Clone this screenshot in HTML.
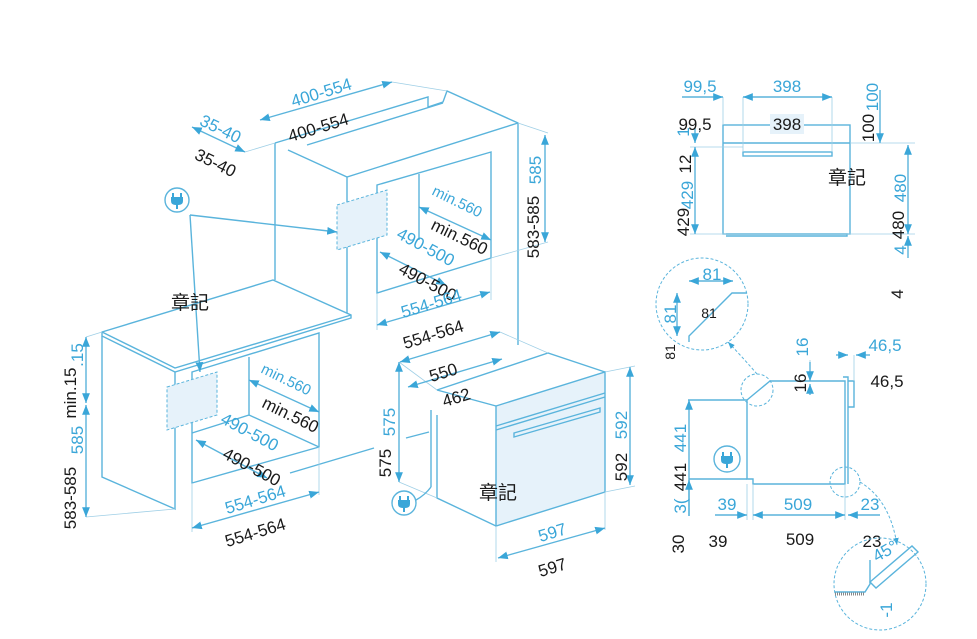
<!DOCTYPE html>
<html><head><meta charset="utf-8"><style>
html,body{margin:0;padding:0;background:#fff;width:977px;height:639px;overflow:hidden}
svg{display:block}
text{font-family:"Liberation Sans","Noto Sans CJK TC",sans-serif;font-size:17px}
.b{fill:#3aa6d8}.k{fill:#1a1a1a}
.l{stroke:#5ab4dc;stroke-width:1.4;fill:none}
.t{stroke:#9fcfe6;stroke-width:0.8;fill:none}
.d{stroke:#5ab4dc;stroke-width:1;fill:none;stroke-dasharray:3 2}
.f{fill:#e6f2fa}
</style></head><body>
<svg width="977" height="639" viewBox="0 0 977 639">
<defs><marker id="a" viewBox="0 0 10 10" refX="10" refY="5" markerWidth="7" markerHeight="7" orient="auto-start-reverse"><path d="M0,1 L10,5 L0,9z" fill="#3aa6d8"/></marker>
<g id="p"><path d="M-4,-7 L-4,-3 M4,-7 L4,-3" stroke="#3aa6d8" stroke-width="2"/><path d="M-6,-3 L6,-3 L6,1 Q6,5 1,5 L1,9 L-1,9 L-1,5 Q-6,5 -6,1Z" fill="#3aa6d8"/></g></defs>

<g class="l">
<path d="M275,143 L428,97 L428,107 L443,102 L447,91 L518,123 L518,345"/>
<path d="M288,150 L347,177 L518,123"/>
<path d="M443,103 L307,145"/>
<path d="M275,143 L275,280"/>
<path d="M347,177 L347,313"/>
<path d="M377,185 L491,152 L491,258 L377,293 Z"/>
<path d="M419,174 L419,240"/>
</g>
<path d="M337,205 L387,190 L387,235 L337,250Z" class="f"/>
<path d="M337,205 L387,190 L387,235 L337,250Z" class="d"/>

<g class="l">
<path d="M102,332 L273,280 L351,315 L351,318 L175,372 L102,336 Z"/>
<path d="M102,332 L175,368 L351,315"/>
<path d="M102,336 L102,477 L175,509 L175,372"/>
<path d="M192,372 L319,333 L319,447 L192,483 Z"/>
<path d="M249,357 L249,415 L192,433"/>
<path d="M249,415 L319,447"/>
</g>
<path d="M167,387 L217,372 L217,415 L167,430Z" class="f"/>
<path d="M167,387 L217,372 L217,415 L167,430Z" class="d"/>

<path d="M496,406 L605,372 L605,492 L496,526Z" fill="#e6f2fa"/>
<g class="l">
<path d="M496,406 L605,372 L605,492 L496,526Z"/>
<path d="M437,390 L548,353 L605,372"/>
<path d="M437,390 L496,406"/>
<path d="M437,415 L437,498 L496,526"/>
<path d="M431,410 L431,487"/>
<path d="M496,426 L605,393"/><path d="M496,430 L605,397"/>
<path d="M514,433 L600,408 L600,412 L514,437Z"/>
<path d="M290,473 L374,448"/><path d="M406,438 L429,432"/>
</g>

<g class="t">
<path d="M245,152 L275,143"/><path d="M392,82 L447,91"/>
<path d="M518,123 L548,133"/><path d="M491,258 L548,242"/>
<path d="M377,293 L377,330"/><path d="M491,258 L491,300"/>
<path d="M86,337 L102,332"/><path d="M86,517 L175,509"/>
<path d="M192,483 L192,532"/><path d="M319,447 L319,495"/>
<path d="M399,362 L437,390"/><path d="M399,482 L437,498"/>
<path d="M605,372 L635,366"/><path d="M605,492 L635,486"/>
<path d="M496,526 L496,562"/><path d="M605,492 L605,530"/>
<path d="M500,332 L548,353"/>
</g>

<g class="l" marker-start="url(#a)" marker-end="url(#a)" stroke-width="1">
<path d="M260,120 L392,82"/>
<path d="M192,127 L245,152"/>
<path d="M545,135 L545,242"/>
<path d="M419,207 L491,240"/>
<path d="M380,252 L446,285"/>
<path d="M377,325 L490,292"/>
<path d="M400,362 L500,332"/>
<path d="M408,387 L502,359"/>
<path d="M399,362 L399,482"/>
<path d="M630,367 L630,485"/>
<path d="M498,558 L605,528"/>
<path d="M192,528 L319,492"/>
<path d="M249,380 L319,412"/>
<path d="M196,440 L267,478"/>
<path d="M86,337 L86,403"/><path d="M86,405 L86,517"/>
</g>

<circle cx="177" cy="200" r="12" class="l"/>
<use href="#p" x="177" y="200"/>
<g class="l" stroke-width="1"><path d="M190,215 L337,232" marker-end="url(#a)"/><path d="M190,215 L200,372" marker-end="url(#a)"/></g>
<circle cx="404" cy="503" r="12" class="l"/>
<use href="#p" x="404" y="503"/>
<path d="M416,500 Q425,495 431,487" class="l"/>

<text class="b" transform="translate(323,98) rotate(-17)" text-anchor="middle">400-554</text>
<text class="k" transform="translate(320,133) rotate(-17)" text-anchor="middle">400-554</text>
<text class="b" transform="translate(218,134) rotate(26)" text-anchor="middle">35-40</text>
<text class="k" transform="translate(213,168) rotate(26)" text-anchor="middle">35-40</text>
<text class="b" transform="translate(455,206) rotate(26)" text-anchor="middle" style="font-size:15px">min.560</text>
<text class="k" transform="translate(457,242) rotate(26)" text-anchor="middle">min.560</text>
<text class="b" transform="translate(423,252) rotate(28)" text-anchor="middle">490-500</text>
<text class="k" transform="translate(425,287) rotate(28)" text-anchor="middle">490-500</text>
<text class="b" transform="translate(433,309) rotate(-17)" text-anchor="middle">554-564</text>
<text class="k" transform="translate(435,340) rotate(-17)" text-anchor="middle">554-564</text>
<text class="b" transform="translate(541,170) rotate(-90)" text-anchor="middle">585</text>
<text class="k" transform="translate(539,227) rotate(-90)" text-anchor="middle">583-585</text>
<text class="k" x="190" y="309" text-anchor="middle" style="font-size:19px">章記</text>

<text class="b" transform="translate(284,384) rotate(26)" text-anchor="middle" style="font-size:15px">min.560</text>
<text class="k" transform="translate(288,420) rotate(26)" text-anchor="middle">min.560</text>
<text class="b" transform="translate(247,437) rotate(28)" text-anchor="middle">490-500</text>
<text class="k" transform="translate(249,472) rotate(28)" text-anchor="middle">490-500</text>
<text class="b" transform="translate(257,505) rotate(-17)" text-anchor="middle">554-564</text>
<text class="k" transform="translate(257,538) rotate(-17)" text-anchor="middle">554-564</text>
<text class="b" transform="translate(83,355) rotate(-90)" text-anchor="middle">.15</text>
<text class="k" transform="translate(76,393) rotate(-90)" text-anchor="middle">min.15</text>
<text class="b" transform="translate(83,440) rotate(-90)" text-anchor="middle">585</text>
<text class="k" transform="translate(76,498) rotate(-90)" text-anchor="middle">583-585</text>

<text class="k" transform="translate(445,378) rotate(-17)" text-anchor="middle">550</text>
<text class="k" transform="translate(458,403) rotate(-17)" text-anchor="middle">462</text>
<text class="b" transform="translate(395,422) rotate(-90)" text-anchor="middle">575</text>
<text class="k" transform="translate(391,463) rotate(-90)" text-anchor="middle">575</text>
<text class="b" transform="translate(627,425) rotate(-90)" text-anchor="middle">592</text>
<text class="k" transform="translate(627,467) rotate(-90)" text-anchor="middle">592</text>
<text class="b" transform="translate(554,538) rotate(-17)" text-anchor="middle">597</text>
<text class="k" transform="translate(554,573) rotate(-17)" text-anchor="middle">597</text>
<text class="k" x="498" y="499" text-anchor="middle" style="font-size:19px">章記</text>

<rect x="723" y="125" width="127" height="109" fill="#e6f2fa" class="l"/>
<path d="M723,143 L850,143" class="l"/>
<rect x="743" y="152" width="89" height="4" class="l"/>
<path d="M726,234 L847,234 L847,236 L726,236" class="l"/>
<g class="t"><path d="M723,97 L723,125"/><path d="M743,97 L743,152"/><path d="M832,97 L832,152"/><path d="M690,147 L743,147"/><path d="M690,234 L915,234"/><path d="M850,143 L915,143"/></g>
<g class="l" stroke-width="1">
<path d="M682,97 L723,97" marker-end="url(#a)"/>
<path d="M743,97 L832,97" marker-start="url(#a)" marker-end="url(#a)"/>
<path d="M695,147 L695,234" marker-start="url(#a)" marker-end="url(#a)"/>
<path d="M695,128 L695,143" marker-end="url(#a)"/>
<path d="M880,90 L880,143" marker-end="url(#a)"/>
<path d="M908,145 L908,234" marker-start="url(#a)" marker-end="url(#a)"/>
<path d="M908,258 L908,236" marker-end="url(#a)"/>
</g>
<text class="b" x="700" y="92" text-anchor="middle">99,5</text>
<text class="b" x="787" y="92" text-anchor="middle">398</text>
<text class="k" x="695" y="130" text-anchor="middle">99,5</text>
<rect x="770" y="114" width="34" height="20" fill="#e6f2fa"/>
<text class="k" x="787" y="130" text-anchor="middle">398</text>
<text class="b" transform="translate(878,97) rotate(-90)" text-anchor="middle">100</text>
<text class="k" transform="translate(874,128) rotate(-90)" text-anchor="middle">100</text>
<text class="b" transform="translate(689,132) rotate(-90)" text-anchor="middle">1</text>
<text class="k" transform="translate(691,164) rotate(-90)" text-anchor="middle">12</text>
<text class="b" transform="translate(693,195) rotate(-90)" text-anchor="middle">429</text>
<text class="k" transform="translate(689,222) rotate(-90)" text-anchor="middle">429</text>
<text class="b" transform="translate(906,188) rotate(-90)" text-anchor="middle">480</text>
<text class="k" transform="translate(904,225) rotate(-90)" text-anchor="middle">480</text>
<text class="b" transform="translate(906,250) rotate(-90)" text-anchor="middle">4</text>
<text class="k" transform="translate(903,294) rotate(-90)" text-anchor="middle">4</text>
<text class="k" x="847" y="184" text-anchor="middle" style="font-size:19px">章記</text>

<circle cx="702" cy="304" r="46" class="d" stroke="#aaa"/>
<path d="M689,342 L689,336 L732,293 L747,293" class="l"/>
<g class="l" stroke-width="1"><path d="M689,281 L733,281" marker-start="url(#a)" marker-end="url(#a)"/><path d="M677,293 L677,336" marker-start="url(#a)" marker-end="url(#a)"/></g>
<text class="b" x="712" y="280" text-anchor="middle">81</text>
<text class="b" transform="translate(676,314) rotate(-90)" text-anchor="middle">81</text>
<text class="k" x="709" y="318" text-anchor="middle" style="font-size:14px">81</text>
<text class="k" transform="translate(675,352) rotate(-90)" text-anchor="middle" style="font-size:14px">81</text>
<path d="M757,374 Q745,360 728,342" class="d" stroke="#aaa" marker-end="url(#a)"/>

<g class="l">
<path d="M747,400 L753,395 L770,381 L845,381 L845,484 L753,484 L753,479 L747,479 Z"/>
<path d="M843,377 L848,377 L848,484"/>
<path d="M848,381 L854,381 L854,407 L848,407"/>
<path d="M688,400 L747,400"/><path d="M689,479 L747,479"/>
</g>
<circle cx="757" cy="390" r="16" class="d" stroke="#aaa"/>
<circle cx="845" cy="482" r="15" class="d" stroke="#aaa"/>
<path d="M860,482 Q890,500 897,545" class="d" stroke="#aaa" marker-end="url(#a)"/>
<g class="t"><path d="M747,484 L747,520"/><path d="M753,484 L753,520"/><path d="M845,484 L845,520"/><path d="M810,360 L810,381"/><path d="M854,355 L854,381"/></g>
<g class="l" stroke-width="1">
<path d="M689,516 L689,400" marker-end="url(#a)"/>
<path d="M689,480 L689,516" marker-start="url(#a)"/>
<path d="M715,515 L747,515" marker-end="url(#a)"/>
<path d="M753,515 L845,515" marker-start="url(#a)" marker-end="url(#a)"/>
<path d="M880,515 L848,515" marker-end="url(#a)"/>
<path d="M810,362 L810,381" marker-end="url(#a)"/>
<path d="M810,395 L810,384" marker-end="url(#a)"/>
<path d="M836,355 L848,355" marker-end="url(#a)"/>
<path d="M870,355 L856,355" marker-end="url(#a)"/>
</g>
<circle cx="727" cy="459" r="13" class="l"/>
<use href="#p" x="727" y="459"/>
<text class="b" transform="translate(808,347) rotate(-90)" text-anchor="middle">16</text>
<text class="k" transform="translate(806,383) rotate(-90)" text-anchor="middle">16</text>
<text class="b" x="885" y="351" text-anchor="middle">46,5</text>
<text class="k" x="887" y="387" text-anchor="middle">46,5</text>
<text class="b" transform="translate(686,438) rotate(-90)" text-anchor="middle">441</text>
<text class="k" transform="translate(686,477) rotate(-90)" text-anchor="middle">441</text>
<text class="b" transform="translate(686,506) rotate(-90)" text-anchor="middle">3(</text>
<text class="k" transform="translate(684,544) rotate(-90)" text-anchor="middle">30</text>
<text class="b" x="727" y="510" text-anchor="middle">39</text>
<text class="b" x="798" y="510" text-anchor="middle">509</text>
<text class="b" x="870" y="510" text-anchor="middle">23</text>
<text class="k" x="718" y="547" text-anchor="middle">39</text>
<text class="k" x="800" y="545" text-anchor="middle">509</text>
<text class="k" x="872" y="547" text-anchor="middle">23</text>

<circle cx="880" cy="584" r="46" class="d" stroke="#aaa"/>
<path d="M835,592 L865,592 L870,584 L870,560" class="l"/>
<path d="M835,594 L865,594" stroke="#888" stroke-width="3" stroke-dasharray="1 1"/>
<path d="M870,582 L912,546 L918,552 L876,588 Z" fill="#e6f2fa" class="l"/>
<text class="b" transform="translate(888,556) rotate(-30)" text-anchor="middle">45°</text>
<text class="b" transform="translate(892,610) rotate(-90)" text-anchor="middle">-1</text>
</svg>
</body></html>
